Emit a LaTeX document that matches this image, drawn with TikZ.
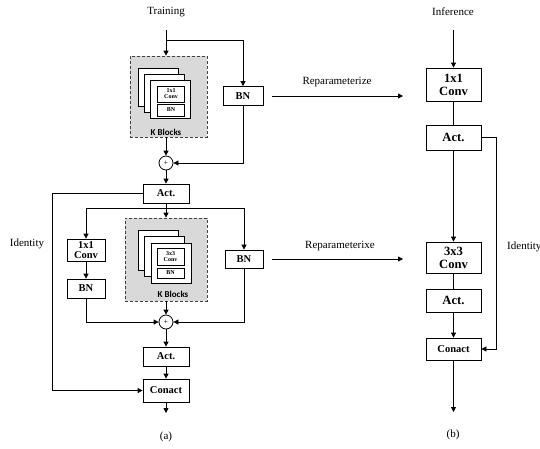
\documentclass[tikz,border=0pt]{standalone}
\usepackage{fontspec}
\setmainfont{Liberation Serif}
\newfontfamily\kfont{Carlito}
\usetikzlibrary{arrows.meta}
\newcommand{\boxlw}{0.8pt}
\newcommand{\tipsize}{5pt}

\begin{document}
\begin{tikzpicture}[x=1pt,y=-1pt]
    \tikzset{
        lbl/.style={font=\fontsize{11}{12}\selectfont, inner sep=0pt},
        box/.style={draw, fill=white, line width=\boxlw, inner sep=0pt, align=center, font=\bfseries\fontsize{10.5}{10}\selectfont},
        bigbox/.style={box, minimum width=55pt, font=\bfseries\fontsize{12.6}{13}\selectfont},
        kbox/.style={draw=black!75, dash pattern=on 3pt off 2pt, fill=gray!30, line width=0.7pt, inner sep=0pt},
        blk/.style={draw, fill=white, line width=\boxlw, minimum width=40pt, minimum height=38pt, inner sep=0pt},
        tinybox/.style={draw, fill=white, line width=0.6pt, minimum width=27pt, inner sep=0pt, align=center, font=\bfseries\fontsize{6}{6}\selectfont},
        ktext/.style={font=\kfont\bfseries\fontsize{9}{9}\selectfont, inner sep=0pt},
        sumnode/.style={draw, circle, fill=white, line width=\boxlw, minimum size=14pt, inner sep=0pt, font=\fontsize{8}{8}\selectfont},
        line/.style={line width=\boxlw},
        arr/.style={line, -{Triangle[length=\tipsize,width=\tipsize]}}
    }
    \useasboundingbox (0,0) rectangle (540,448);

    % (a) training
    \node[lbl] (train) at (166,12) {Training};
    \coordinate (tin) at (166,30);
    \coordinate (split1) at (166,40);
    \node[kbox, minimum width=77pt, minimum height=81pt] (kb1) at (168.5,96.5) {};
    \node[blk] (s1a) at (158,87) {};
    \node[blk] (s1b) at (164,93) {};
    \node[blk] (s1c) at (170,99) {};
    \node[tinybox, minimum height=16pt] (c1in) at (171,94) {1x1\\Conv};
    \node[tinybox, minimum height=12pt] (b1in) at (171,110) {BN};
    \node[ktext] (k1) at (166,132) {K Blocks};
    \node[box, minimum width=40pt, minimum height=19pt] (bn1) at (243,96) {BN};
    \node[sumnode] (sum1) at (166,163) {+};
    \node[box, minimum width=46pt, minimum height=19pt] (act1) at (166,193.5) {Act.};

    \draw[arr] (tin) -- (tin |- kb1.north);
    \draw[arr] (split1) -| (bn1.north);
    \draw[arr] (sum1 |- kb1.south) -- (sum1.north);
    \draw[arr] (bn1.south) |- (sum1.east);
    \draw[arr] (sum1) -- (act1);

    \coordinate (split2) at (166,208);
    \coordinate (idl) at (52,193.5);
    \node[box, minimum width=38pt, minimum height=22pt] (conv1) at (86,250) {1x1\\Conv};
    \node[box, minimum width=38pt, minimum height=19pt] (bn2) at (86,288.5) {BN};
    \node[kbox, minimum width=82pt, minimum height=83pt] (kb2) at (166,259.5) {};
    \node[blk, minimum height=40pt] (s2a) at (158,250) {};
    \node[blk, minimum height=40pt] (s2b) at (164.5,256.5) {};
    \node[blk, minimum height=40pt] (s2c) at (171,263) {};
    \node[tinybox, minimum height=17pt] (c2in) at (170.5,256.5) {3x3\\Conv};
    \node[tinybox, minimum height=10pt] (b2in) at (170.5,273) {BN};
    \node[ktext] (k2) at (173,294) {K Blocks};
    \node[box, minimum width=38pt, minimum height=18pt] (bn3) at (244,259) {BN};
    \node[sumnode] (sum2) at (166,322) {+};
    \node[box, minimum width=46pt, minimum height=19pt] (act2) at (166,356.5) {Act.};
    \node[box, minimum width=46pt, minimum height=23pt] (conact1) at (166,390.5) {Conact};
    \coordinate (out1) at (166,413);
    \node[lbl] (id1) at (27,244) {Identity};
    \node[lbl] (capa) at (166,437) {(a)};

    \draw[line] (act1) -- (split2);
    \draw[arr] (split2) -- (kb2.north);
    \draw[arr] (split2) -| (conv1.north);
    \draw[arr] (split2) -| (bn3.north);
    \draw[arr] (conv1) -- (bn2);
    \draw[arr] (kb2) -- (sum2);
    \draw[arr] (bn2.south) |- (sum2.west);
    \draw[arr] (bn3.south) |- (sum2.east);
    \draw[arr] (sum2) -- (act2);
    \draw[arr] (act2) -- (conact1);
    \draw[arr] (conact1) -- (out1);
    \draw[arr] (act1.west) -- (idl) |- (conact1.west);

    % (b) inference
    \node[lbl] (infer) at (453,12) {Inference};
    \coordinate (bin) at (453.5,30);
    \node[bigbox, minimum height=33pt] (conv11) at (453.5,84.5) {1x1\\Conv};
    \node[bigbox, minimum height=25pt] (actb1) at (453.5,137.5) {Act.};
    \node[bigbox, minimum height=31pt] (conv33) at (453.5,257.5) {3x3\\Conv};
    \node[bigbox, minimum height=23pt] (actb2) at (453.5,300.5) {Act.};
    \node[box, minimum width=55pt, minimum height=22pt] (conactb) at (453.5,349) {Conact};
    \coordinate (outb) at (453.5,412);
    \coordinate (idr) at (496,137.5);
    \node[lbl, anchor=west] (id2) at (507,247) {Identity};
    \node[lbl] (capb) at (453,435) {(b)};

    \draw[arr] (bin) -- (conv11);
    \draw[line] (conv11) -- (actb1);
    \draw[arr] (actb1) -- (conv33);
    \draw[line] (conv33) -- (actb2);
    \draw[arr] (actb2) -- (conactb);
    \draw[arr] (conactb) -- (outb);
    \draw[arr] (actb1.east) -- (idr) |- (conactb.east);

    % reparameterization
    \coordinate (rp1) at (403,96);
    \coordinate (rp2) at (403,259);
    \node[lbl] (rp1t) at (337,82) {Reparameterize};
    \node[lbl] (rp2t) at (340,246) {Reparameterixe};
    \draw[arr, shorten <=9pt] (bn1.east) -- (rp1);
    \draw[arr, shorten <=9pt] (bn3.east) -- (rp2);
\end{tikzpicture}
\end{document}
